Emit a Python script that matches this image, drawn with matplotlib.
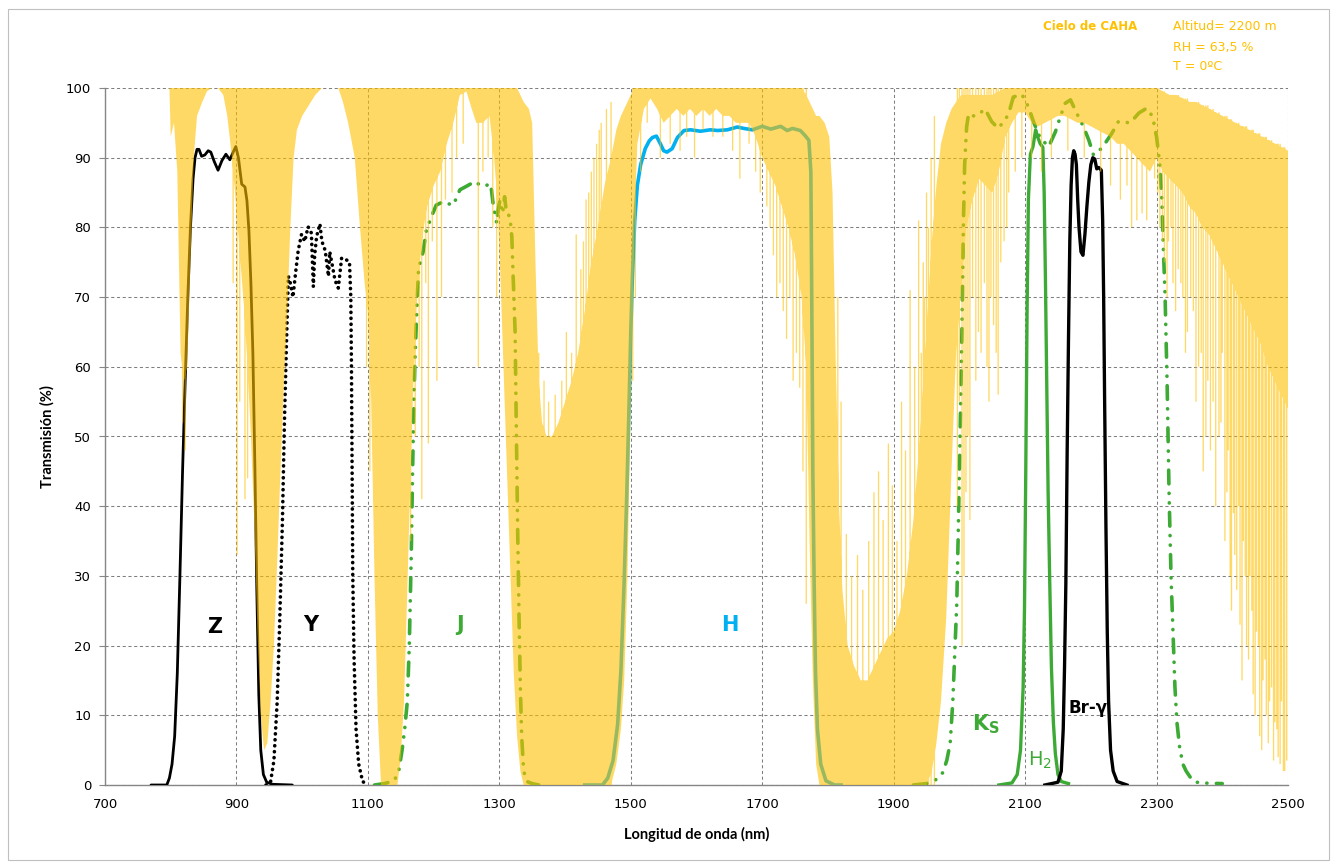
import numpy as np
import matplotlib
matplotlib.use("Agg")
import matplotlib.pyplot as plt
from matplotlib.patches import Rectangle, PathPatch
from matplotlib.path import Path

# ---------------- filter transmission curves (wavelength nm, transmission %) ----------------
z_wl = [770, 794, 798, 802, 806, 810, 814, 818, 822, 826, 830, 834, 837, 840, 843, 847, 852,
        857, 861, 866, 872, 878, 884, 890, 895, 899, 903, 908, 913, 916, 919, 922, 925, 928,
        931, 934, 937, 941, 946, 955, 985]
z_t = [0, 0, 1, 3, 7, 16, 30, 45, 58, 70, 80, 87, 90, 91.2, 91.2, 90.2, 90.4, 91.0, 90.8,
       89.5, 88.2, 89.6, 90.5, 89.7, 90.8, 91.6, 90.0, 86.2, 85.8, 83.8, 79.5, 72, 62, 46,
       28, 13, 5, 1.5, 0.4, 0.1, 0]

y_wl = [945, 952, 957, 962, 966, 970, 973, 976, 979, 982, 986, 990, 994, 999, 1004, 1009,
        1014, 1017, 1019, 1022, 1027, 1030, 1035, 1040, 1042, 1045, 1050, 1055, 1060, 1068,
        1072, 1074, 1075, 1076, 1077, 1079, 1082, 1086, 1092, 1100]
y_t = [0, 0.5, 3.5, 12, 24, 38, 52, 63, 73, 72, 70, 73.5, 76.7, 79, 78, 80.1, 79.2, 71.5,
       76, 78.7, 80.5, 78, 76.7, 73, 76.5, 75, 72.4, 71.3, 75.6, 75.3, 75, 70, 60, 45, 30,
       18, 8, 3, 0.5, 0]

j_wl = [1110, 1125, 1140, 1147, 1152, 1156, 1160, 1163, 1166, 1168, 1170, 1172, 1174, 1177,
        1184, 1189, 1197, 1204, 1215, 1222, 1230, 1240, 1250, 1263, 1270, 1278, 1286, 1288,
        1291, 1296, 1298, 1301, 1305, 1308, 1311, 1316, 1319, 1321, 1324, 1326, 1328, 1330,
        1332, 1334, 1337, 1342, 1350, 1360]
j_t = [0, 0.2, 0.6, 2, 5, 8, 12, 20, 33, 45, 55, 62, 67, 74, 76.5, 79.6, 81.6, 83.2, 83.7,
       83.4, 83.2, 85.4, 85.9, 86.6, 86.1, 85.9, 86.3, 85.4, 83, 80.6, 82.5, 83.9, 82, 84.4,
       82, 81.6, 78.7, 73, 65, 50, 36, 24, 14, 7, 2, 0.5, 0.2, 0]

h_wl = [1430, 1457, 1465, 1473, 1480, 1485, 1490, 1494, 1497.5, 1500, 1502.5, 1506, 1510,
        1515, 1522, 1528, 1533, 1539, 1545, 1550, 1555, 1563, 1571, 1581, 1591, 1606, 1621,
        1632, 1647, 1662, 1672, 1685, 1700, 1713, 1728, 1738, 1746, 1758, 1765, 1771, 1774,
        1775.5, 1777, 1779, 1781, 1784, 1789, 1797, 1810, 1820]
h_t = [0, 0, 1, 3.5, 8.7, 16.5, 29.4, 42, 55, 65, 73, 81, 86, 89, 91.3, 92.4, 92.9, 93.1,
       92, 91, 90.8, 91.3, 92.9, 93.9, 94, 93.8, 94, 93.9, 94, 94.4, 94.2, 94, 94.5, 94.1,
       94.5, 93.9, 94.2, 93.9, 93.2, 92.5, 88, 68, 45, 29, 16.5, 8, 3, 0.6, 0, 0]

ks_wl = [1930, 1950, 1965, 1975, 1981, 1986, 1990, 1993, 1996, 1998, 2000, 2002, 2004, 2006,
         2008, 2011, 2014, 2018, 2026, 2034, 2039, 2049, 2059, 2071, 2077, 2082, 2095, 2105,
         2113, 2123, 2136, 2146, 2154, 2161, 2169, 2179, 2189, 2197, 2204, 2212, 2222, 2232,
         2242, 2260, 2273, 2285, 2294, 2300, 2305, 2308, 2310, 2313, 2316, 2319, 2322, 2325,
         2328, 2331, 2335, 2340, 2345, 2355, 2365, 2400]
ks_t = [0, 0.2, 0.8, 1.8, 3.6, 6, 12, 19, 26, 35, 45, 55, 66, 80, 89, 94.4, 96.3, 96, 96,
        96.6, 97, 95.2, 94.2, 95.6, 97, 98.7, 99.1, 97.3, 95.1, 92.8, 91.6, 93.7, 96, 97.8,
        98.3, 96.3, 94.4, 92.5, 90.4, 90.9, 92.1, 93.5, 95.2, 95, 96.4, 97.1, 95.9, 93, 89,
        84, 78, 70, 58, 42, 30, 22, 14, 9, 5.5, 3, 2, 0.6, 0.3, 0.2]

h2_wl = [2060, 2080, 2088, 2093, 2097, 2099, 2101, 2103, 2105, 2108, 2112, 2116, 2119, 2123,
         2127, 2129, 2131, 2133, 2135, 2137.5, 2140, 2143, 2146, 2150, 2155, 2166]
h2_t = [0, 0.3, 1.5, 5, 14, 25, 45, 68, 84, 90.5, 91.6, 94, 93, 92, 91.5, 85, 72, 57, 42,
        29, 17, 9, 4.5, 1.5, 0.5, 0.2]

brg_wl = [2130, 2150, 2155, 2158, 2160, 2162, 2164, 2166, 2168, 2170, 2172, 2174, 2176, 2178,
          2180, 2182, 2185, 2188, 2191, 2194, 2197, 2200, 2203, 2206, 2209, 2212, 2216, 2218,
          2219.5, 2221, 2223, 2225, 2227, 2230, 2234, 2240, 2255]
brg_t = [0, 0.4, 2, 8, 17, 29, 48, 64, 78, 86, 90, 91, 90.5, 89, 84, 80, 76.5, 76, 79, 83,
         86.5, 89, 90, 89.8, 88.4, 88.6, 88.2, 81, 70, 55, 37, 22, 12, 5, 2, 0.5, 0]

# ---------------- sky transmission at Calar Alto ----------------
# dense band: upper and lower envelope of the absorption spectrum
sky_wl = [798, 800, 805, 810, 815, 820, 825, 830, 835, 840, 848, 855, 862, 872, 880, 886, 892,
          897, 902, 907, 912, 917, 922, 927, 932, 937, 942, 947, 952, 957, 962, 967, 972,
          977, 982, 987, 992, 1000, 1010, 1020, 1030, 1055, 1062, 1070, 1080, 1088, 1095,
          1100, 1105, 1110, 1115, 1120, 1145, 1150, 1155, 1160, 1165, 1170, 1175, 1180, 1185,
          1190, 1200, 1210, 1220, 1230, 1240, 1250, 1258, 1265, 1275, 1285, 1292, 1297, 1302,
          1307, 1312, 1317, 1322, 1327, 1332, 1337, 1345, 1350, 1355, 1360, 1365, 1372, 1380,
          1390, 1400, 1410, 1420, 1430, 1440, 1450, 1460, 1470, 1478, 1485, 1490, 1495, 1500,
          1505, 1510, 1520, 1530, 1540, 1550, 1560, 1570, 1580, 1590, 1600, 1610, 1620, 1630,
          1640, 1650, 1660, 1670, 1680, 1690, 1700, 1710, 1720, 1730, 1740, 1750, 1760, 1767,
          1772, 1777, 1782, 1787, 1795, 1802, 1807, 1812, 1817, 1822, 1830, 1840, 1850, 1860,
          1870, 1880, 1890, 1900, 1910, 1920, 1930, 1940, 1950, 1958, 1965, 1972, 1980, 1988,
          1995, 2003, 2010, 2020, 2030, 2040, 2050, 2060, 2070, 2080, 2090, 2100, 2110, 2120,
          2130, 2140, 2150, 2160, 2170, 2180, 2190, 2200, 2210, 2220, 2230, 2240, 2250, 2260,
          2270, 2280, 2290, 2300, 2310, 2320, 2330, 2340, 2350, 2360, 2370, 2380, 2390, 2400,
          2410, 2420, 2430, 2440, 2450, 2460, 2470, 2480, 2490, 2500]
sky_hi = [100, 100, 100, 100, 100, 100, 100, 100, 100, 100, 100, 100, 100, 100, 100, 100, 100,
          100, 100, 100, 100, 100, 100, 100, 100, 100, 100, 100, 100, 100, 100, 100, 100,
          100, 100, 100, 100, 100, 100, 100, 100, 100, 100, 100, 100, 100, 100,
          100, 100, 100, 100, 100, 100, 100, 100, 100, 100, 100, 100, 100, 100,
          100, 100, 100, 100, 100, 100, 100, 100, 100, 100, 100, 100, 100, 100,
          100, 100, 100, 100, 100, 99, 98, 97, 95, 75, 58, 52, 50, 50,
          52, 55, 58, 62, 68, 75, 80, 86, 90, 94, 96, 97, 98, 99,
          100, 100, 100, 100, 100, 100, 100, 100, 100, 100, 100, 100, 100, 100,
          100, 100, 100, 100, 100, 100, 100, 100, 100, 100, 100, 100, 100, 99,
          98, 97, 96, 96, 95, 93, 85, 60, 40, 28, 20, 17, 15, 15,
          17, 19, 21, 22, 25, 30, 38, 50, 65, 78, 86, 92, 95, 97,
          98, 99, 99, 99, 99, 99, 99, 99.5, 100, 100, 100, 100, 100, 100,
          100, 100, 100, 100, 100, 100, 100, 100, 100, 100, 100, 100, 100, 100,
          100, 100, 100, 100, 99.5, 99, 99, 98.5, 98, 98, 97.5, 97, 96.5, 96,
          95.5, 95, 94.5, 94, 93.5, 93, 92.5, 92, 91.5, 91]
sky_lo = [100, 93, 95, 88, 62, 58, 60, 75, 90, 96, 98, 99.5, 100, 100, 99, 96, 91,
          86, 80, 74, 68, 60, 50, 38, 22, 10, 5, 6, 12, 20, 32, 45, 57,
          67, 80, 90, 94, 96, 97.5, 99, 100, 100, 98, 95, 90, 80, 72,
          68, 55, 30, 10, 0, 0, 4, 12, 28, 45, 60, 70, 76, 80,
          83, 86, 88, 92, 95, 99, 99.5, 97, 95, 95, 96, 90, 84, 72,
          58, 44, 30, 16, 7, 2, 0, 0, 0, 0, 0, 0, 0, 0,
          0, 0, 0, 0, 0, 0, 0, 0, 0, 3, 8, 15, 30, 55,
          80, 92, 97, 98.5, 97, 95, 96, 97, 96, 97, 96, 97, 96, 97,
          96, 96, 95, 95, 95, 93, 90, 88, 86, 83, 80, 76, 70, 60,
          35, 15, 3, 0, 0, 0, 0, 0, 0, 0, 0, 0, 0, 0,
          0, 0, 0, 0, 0, 0, 0, 0, 0, 2, 6, 12, 24, 45,
          62, 72, 80, 84, 87, 86, 85, 88, 93, 95, 96.5, 96.5, 95, 94.5,
          95, 95.5, 96, 96, 95.5, 95, 95, 94.5, 94, 93.5, 93, 92, 92, 91,
          90, 89, 88, 90, 88, 87, 86, 85, 83, 82, 80, 79, 77, 75,
          73, 71, 69, 67, 65, 63, 60, 58, 56, 54]

# isolated absorption lines (down from the top) and leaks (up from zero)
line_wl = [818, 822, 895, 901, 905, 913, 917, 1098, 1103,
           1165, 1172, 1178, 1182, 1188, 1192, 1198, 1205, 1212, 1218, 1228, 1235, 1245,
           1268, 1275, 1283, 1290, 1296,
           1360, 1368, 1375, 1385, 1395, 1402, 1410, 1417, 1424, 1428, 1432, 1436, 1440,
           1444, 1448, 1452, 1455, 1463, 1470,
           1503, 1507, 1515, 1525, 1545, 1560, 1575, 1585, 1597, 1610, 1625, 1640, 1655,
           1666, 1680, 1690, 1697, 1707, 1712, 1717, 1722, 1727, 1732, 1737, 1742, 1747,
           1752, 1757, 1762, 1767,
           1815, 1820, 1828, 1836, 1845, 1853, 1862, 1870, 1877, 1884, 1892, 1898, 1905,
           1912, 1918, 1925, 1932, 1938, 1942, 1945, 1947, 1950, 1953, 1957, 1962,
           1997, 2000, 2004, 2007, 2010, 2013, 2016, 2020, 2025, 2029, 2033, 2038, 2042,
           2045, 2048, 2052, 2056, 2059, 2063, 2068, 2072, 2075,
           2085, 2095, 2110, 2125, 2140, 2165, 2190, 2215, 2230, 2245, 2255, 2262, 2270,
           2278, 2285, 2297,
           2302, 2305, 2309, 2312, 2316, 2318, 2322, 2325, 2329, 2333, 2337, 2340, 2344,
           2347, 2352, 2356, 2360, 2364, 2368, 2371, 2375, 2378, 2382, 2386, 2390, 2395,
           2398, 2400, 2404, 2407, 2409, 2412, 2414, 2417, 2419, 2422, 2425, 2427, 2430,
           2432, 2435, 2437, 2440, 2442, 2445, 2447, 2450, 2452, 2455, 2457, 2460, 2462,
           2465, 2467, 2470, 2472, 2475, 2478, 2480, 2483, 2485, 2488, 2490, 2493, 2495,
           2498]
line_hi = [100, 100, 100, 100, 100, 100, 100, 100, 100,
           100, 100, 100, 100, 100, 100, 100, 100, 100, 100, 100, 100, 100,
           100, 100, 100, 100, 100,
           62, 58, 55, 56, 58, 65, 62, 79, 74, 78, 84, 85, 88,
           90, 92, 94, 95, 97, 98,
           100, 100, 100, 100, 100, 100, 100, 100, 100, 100, 100, 100, 100,
           100, 100, 100, 100, 100, 100, 100, 100, 100, 100, 100, 100, 100,
           100, 100, 100, 100,
           70, 55, 36, 30, 33, 28, 35, 42, 45, 38, 49, 43, 35,
           55, 48, 71, 60, 81, 62, 75, 70, 85, 80, 90, 96,
           100, 100, 100, 100, 100, 100, 100, 100, 100, 100, 100, 100, 100,
           100, 100, 100, 100, 100, 100, 100, 100, 100,
           100, 100, 100, 100, 100, 100, 100, 100, 100, 100, 100, 100, 100,
           100, 100, 100,
           100, 99.5, 99.5, 99.5, 99, 99, 99, 99, 99, 99, 98.5, 98.5, 98.5,
           98.5, 98, 98, 98, 98, 97.5, 97.5, 97.5, 97.5, 97, 97, 96.5, 96.5,
           96, 96, 96, 96, 95.5, 95.5, 95.5, 95, 95, 95, 95, 94.5, 94.5,
           94.5, 94.5, 94.5, 94, 94, 94, 94, 93.5, 93.5, 93.5, 93.5, 93, 93,
           93, 93, 92.5, 92.5, 92.5, 92, 92, 92, 92, 92, 91.5, 91.5, 91.5,
           91]
line_lo = [52, 48, 72, 33, 55, 41, 44, 60, 45,
           35, 50, 60, 41, 72, 49, 78, 58, 70, 84, 85, 90, 92,
           60, 88, 90, 80, 70,
           0, 0, 0, 0, 0, 0, 0, 0, 0, 0, 0, 0, 0,
           0, 0, 0, 0, 0, 0,
           58, 70, 88, 95, 90, 92, 91, 93, 90, 94, 93, 93, 91,
           87, 92, 88, 85, 83, 80, 76, 70, 72, 68, 64, 70, 58,
           62, 57, 45, 26,
           0, 0, 0, 0, 0, 0, 0, 0, 0, 0, 0, 0, 0,
           0, 0, 0, 0, 0, 0, 0, 0, 0, 0, 0, 0,
           40, 55, 20, 30, 42, 50, 38, 70, 58, 65, 62, 72, 60,
           55, 70, 66, 62, 56, 75, 78, 80, 85,
           88, 90, 90, 88, 90, 91, 90, 88, 86, 84, 86, 80, 81,
           82, 81, 87,
           85, 80, 78, 75, 70, 78, 80, 72, 68, 74, 72, 70, 62,
           65, 70, 68, 55, 60, 62, 45, 50, 58, 48, 55, 40, 50,
           52, 62, 35, 42, 48, 30, 25, 39, 33, 28, 40, 23, 15,
           35, 30, 20, 18, 30, 25, 13, 10, 22, 20, 7, 5, 15,
           18, 10, 6, 12, 14, 3.5, 9, 8, 4, 3, 12, 2, 2,
           3.5]

# ---------------- figure ----------------
W, H = 1331, 863
fig = plt.figure(figsize=(W / 100, H / 100), dpi=100)
fig.patches.append(Rectangle((8 / W, 3 / H), 1 - 10 / W, 1 - 12 / H, transform=fig.transFigure,
                             fill=False, edgecolor="#bfbfbf", linewidth=0.8))
ax = fig.add_axes([105 / W, 1 - 785 / H, (1288 - 105) / W, (785 - 88) / H])

BLACK = "#000000"
BLUE = "#00B0F0"
GREEN = "#3DAA35"
SKY = "#FFC000"

ax.set_xlim(700, 2500)
ax.set_ylim(0, 100)
ax.set_xticks(np.arange(700, 2501, 200))
ax.set_yticks(np.arange(0, 101, 10))
ax.grid(True, color="#7f7f7f", linestyle=(0, (3, 2.5)), linewidth=0.75)
ax.set_axisbelow(True)
for side in ("top", "right"):
    ax.spines[side].set_visible(False)
for side in ("left", "bottom"):
    ax.spines[side].set_color("#868686")
    ax.spines[side].set_linewidth(1.0)
ax.tick_params(axis="both", colors="#868686", labelcolor="#000000", labelsize=9.5,
               length=4, width=0.8)
ax.tick_params(axis="x", length=0, pad=9)
ax.tick_params(axis="y", direction="out", pad=6)
for lab in ax.get_xticklabels() + ax.get_yticklabels():
    lab.set_family("DejaVu Sans")

ax.set_xlabel("Longitud de onda (nm)", fontsize=10.5, fontweight="bold", family="Lato",
              labelpad=12)
ax.set_ylabel("Transmisión (%)", fontsize=10.5, fontweight="bold", family="Lato",
              labelpad=8)

# filter curves
ax.plot(z_wl, z_t, color=BLACK, lw=2.0, solid_capstyle="round", zorder=3)
ax.plot(y_wl, y_t, color=BLACK, lw=2.6, linestyle=(0, (0.05, 1.6)),
        dash_capstyle="round", zorder=3)
dashdotdot = (0, (3.8, 2.6, 0.05, 2.6, 0.05, 2.6))
ax.plot(j_wl, j_t, color=GREEN, lw=2.6, linestyle=dashdotdot, dash_capstyle="round", zorder=3)
ax.plot(h_wl, h_t, color=BLUE, lw=2.6, zorder=3)
ax.plot(ks_wl, ks_t, color=GREEN, lw=2.6, linestyle=dashdotdot, dash_capstyle="round", zorder=3)
ax.plot(h2_wl, h2_t, color=GREEN, lw=2.4, zorder=3)
ax.plot(brg_wl, brg_t, color=BLACK, lw=2.4, zorder=3)

# sky transmission: envelope band plus single lines merged into one path so the
# translucent colour stays even where they overlap; drawn over the filters
verts, codes = [], []
band = list(zip(sky_wl, sky_lo)) + list(zip(sky_wl[::-1], sky_hi[::-1]))
verts += band + [band[0]]
codes += [Path.MOVETO] + [Path.LINETO] * (len(band) - 1) + [Path.CLOSEPOLY]
half = 1.0
for wl, lo, hi in zip(line_wl, line_lo, line_hi):
    verts += [(wl - half, lo), (wl + half, lo), (wl + half, hi), (wl - half, hi), (wl - half, lo)]
    codes += [Path.MOVETO, Path.LINETO, Path.LINETO, Path.LINETO, Path.CLOSEPOLY]
ax.add_patch(PathPatch(Path(verts, codes), facecolor=SKY, edgecolor="none", alpha=0.6,
                       zorder=4))

# filter names
lab_kw = dict(ha="center", va="center", fontweight="bold", family="DejaVu Sans", zorder=6)
ax.text(867, 22.7, "Z", color=BLACK, fontsize=15, **lab_kw)
ax.text(1013, 23, "Y", color=BLACK, fontsize=15, **lab_kw)
ax.text(1240, 23, "J", color=GREEN, fontsize=15, **lab_kw)
ax.text(1651, 23, "H", color=BLUE, fontsize=15, **lab_kw)
ax.text(2041, 8.7, r"K$_\mathbf{S}$", color=GREEN, fontsize=15, **lab_kw)
ax.text(2122, 3.6, r"H$_\mathregular{2}$", color=GREEN, fontsize=14,
        ha="center", va="center", family="DejaVu Sans", zorder=6)
ax.text(2196, 11, "Br-γ", color=BLACK, fontsize=12, **lab_kw)

# site conditions
fig.text(1090 / W, 1 - 27 / H, "Cielo de CAHA", color=SKY, fontsize=8.5, fontweight="bold",
         ha="center", va="center", family="DejaVu Sans")
for i, s in enumerate(["Altitud= 2200 m", "RH = 63,5 %", "T = 0ºC"]):
    fig.text(1173 / W, 1 - (27 + 20 * i) / H, s, color=SKY, fontsize=9,
             ha="left", va="center", family="DejaVu Sans")

fig.savefig("out.png", dpi=100)
